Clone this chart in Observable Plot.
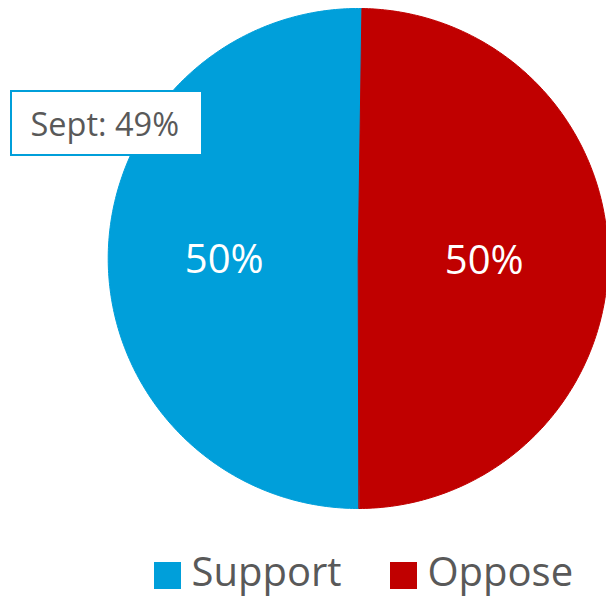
<!DOCTYPE html>
<html>
<head>
<meta charset="utf-8">
<script src="https://cdn.jsdelivr.net/npm/d3@7"></script>
<script src="https://cdn.jsdelivr.net/npm/@observablehq/plot@0.6"></script>
<style>
  html, body { margin: 0; padding: 0; background: #fff; overflow: hidden; }
  #chart svg { display: block; font-family: "Open Sans", sans-serif; }
</style>
</head>
<body>
<div id="chart"></div>
<script>
// ---- data ----
const categories = ["Support", "Oppose"];
const values = [50.3, 49.7];
const colors = ["#009FDA", "#C00000"];
const calloutText = "Sept: 49%";

// ---- layout ----
const W = 606, H = 596;
const cx = 357.7, cy = 258, R = 250;
const startAngle = 3.1376; // Support slice starts just left of the bottom

const rows = categories.map((c, i) => ({cat: c, value: values[i]}));
const arcs = d3.pie().sort(null).value(d => d.value)
  .startAngle(startAngle).endAngle(startAngle + 2 * Math.PI)(rows);

const pts = [];
for (const a of arcs) {
  pts.push({cat: a.data.cat, x: cx, y: cy});
  const n = 240;
  for (let k = 0; k <= n; k++) {
    const t = a.startAngle + (a.endAngle - a.startAngle) * k / n;
    pts.push({cat: a.data.cat, x: cx + R * Math.sin(t), y: cy - R * Math.cos(t)});
  }
}
const labelPts = arcs.map(a => {
  const m = (a.startAngle + a.endAngle) / 2;
  const rr = R * 0.52;
  return {cat: a.data.cat, label: Math.round(a.data.value) + "%",
          x: cx + rr * Math.sin(m), y: cy - rr * Math.cos(m) + 15};
});

const legendItems = [
  {cat: categories[0], x: 154, tx: 191},
  {cat: categories[1], x: 390, tx: 427}
];

const chart = Plot.plot({
  width: W, height: H,
  margin: 0,
  x: {domain: [0, W], range: [0, W], axis: null},
  y: {domain: [0, H], range: [0, H], axis: null},
  color: {domain: categories, range: colors},
  style: {background: "#fff", fontFamily: "Open Sans, sans-serif"},
  marks: [
    Plot.line(pts, {x: "x", y: "y", z: "cat", fill: "cat", stroke: "cat", strokeWidth: 1, curve: "linear-closed"}),
    Plot.text(labelPts, {x: "x", y: "y", dx: -4, text: "label", fill: "white", fontSize: 40, lineAnchor: "bottom", textAnchor: "middle"}),
    // callout
    Plot.rect([{}], {x1: 11, x2: 202, y1: 91, y2: 155, fill: "white", stroke: colors[0], strokeWidth: 2}),
    Plot.text([calloutText], {x: 30, y: 135, text: d => d, fill: "#595959", fontSize: 32.5, textAnchor: "start", lineAnchor: "bottom"}),
    // legend
    Plot.rect(legendItems, {x1: "x", x2: d => d.x + 27, y1: 562, y2: 589, fill: "cat"}),
    Plot.text(legendItems, {x: "tx", y: 585, text: "cat", fill: "#595959", fontSize: 40, textAnchor: "start", lineAnchor: "bottom"})
  ]
});
document.getElementById("chart").appendChild(chart);
</script>
</body>
</html>
